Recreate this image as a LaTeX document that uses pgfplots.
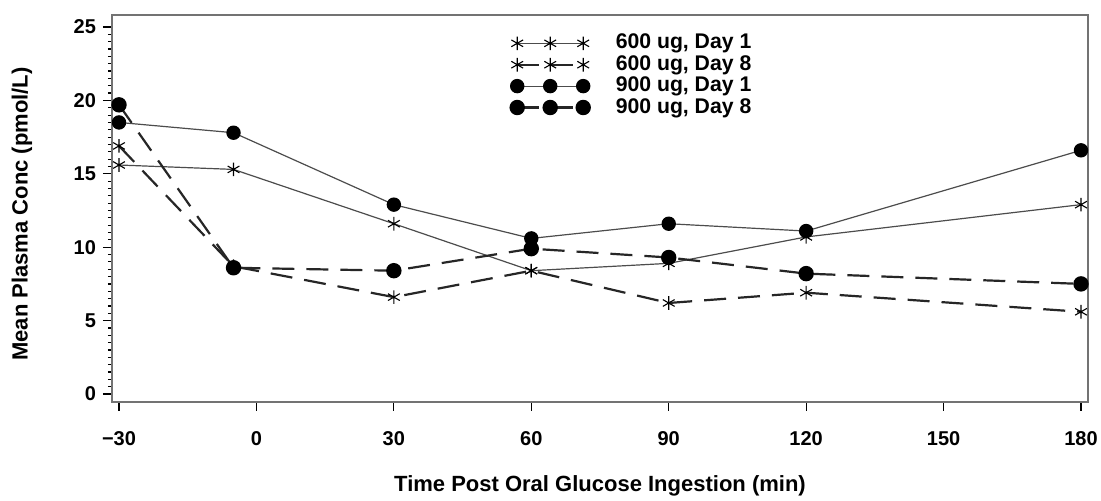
\documentclass[border=0pt]{standalone}
\usepackage{fontspec}
\setmainfont{Liberation Sans}
\usepackage{pgfplots}
\pgfplotsset{compat=1.18}
\tikzset{
  solidline/.style={draw=black!70, line width=0.6pt, solid},
  dashline/.style={draw=black!85, line width=1.1pt, dash pattern=on 11pt off 6pt},
  starmark/.style={mark=asterisk, mark size=3.4pt, mark options={solid, draw=black, line width=0.55pt}},
  dotmark/.style={mark=*, mark size=3.3pt, mark options={solid, draw=black, fill=black}}
}
\begin{document}
\begin{tikzpicture}
\path[use as bounding box] (-56pt,-49.5pt) rectangle (494.5pt,201pt);
\begin{axis}[
  scale only axis, width=488pt, height=193.5pt,
  at={(0pt,0pt)}, anchor=south west,
  xmin=-31.53, xmax=181.53, ymin=-0.545, ymax=25.82,
  clip=false,
  axis line style={draw=black!55, line width=0.8pt},
  tick align=outside,
  xtick pos=left, ytick pos=left,
  xtick={-30,0,30,60,90,120,150,180},
  xticklabels={−30,0,30,60,90,120,150,180},
  ytick={0,5,10,15,20,25},
  minor y tick num=9,
  major tick length=4.5pt, minor tick length=2pt,
  tick style={draw=black, line width=0.6pt},
  /pgf/number format/assume math mode=true,
  ticklabel style={font=\bfseries\fontsize{10}{12}\selectfont, text=black},
  xticklabel style={yshift=-6.5pt},
  xlabel={Time Post Oral Glucose Ingestion (min)},
  ylabel={Mean Plasma Conc (pmol/L)},
  label style={font=\bfseries\fontsize{11}{13}\selectfont},
  xlabel style={at={(axis description cs:0.5,-0.217)}, anchor=center},
  ylabel style={at={(axis description cs:-0.0922,0.486)}, anchor=center},
  legend cell align=left,
  legend style={
    at={(axis description cs:0.408,0.955)}, anchor=north west,
    draw=none, fill=none, inner sep=0pt,
    font=\bfseries\fontsize{10.6}{12}\selectfont,
    nodes={inner sep=0.5pt, text height=7.5pt, text depth=2pt},
    row sep=0.2pt,
    /tikz/every odd column/.append style={column sep=12.5pt}
  },
  legend image code/.code={
    \draw[mark repeat=1, mark phase=1, #1] plot coordinates {(0pt,0pt) (16.5pt,0pt) (33pt,0pt)};
  }
]
\addplot[solidline, starmark] coordinates {
  (-30,15.6) (-5,15.3) (30,11.6) (60,8.4) (90,8.9) (120,10.7) (180,12.9)
};
\addlegendentry{600 ug, Day 1}
\addplot[dashline, starmark] coordinates {
  (-30,16.9) (-5,8.7) (30,6.6) (60,8.4) (90,6.2) (120,6.9) (180,5.6)
};
\addlegendentry{600 ug, Day 8}
\addplot[solidline, dotmark] coordinates {
  (-30,18.5) (-5,17.8) (30,12.9) (60,10.6) (90,11.6) (120,11.1) (180,16.6)
};
\addlegendentry{900 ug, Day 1}
\addplot[dashline, dotmark] coordinates {
  (-30,19.7) (-5,8.6) (30,8.4) (60,9.9) (90,9.3) (120,8.2) (180,7.5)
};
\addlegendentry{900 ug, Day 8}
\end{axis}
\end{tikzpicture}
\end{document}
